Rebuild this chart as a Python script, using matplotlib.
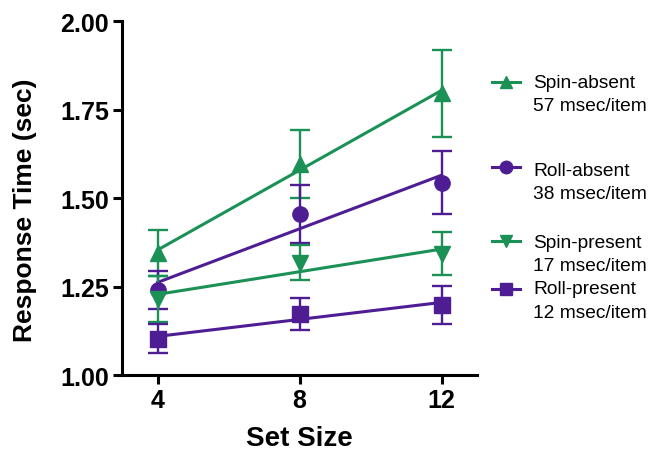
import numpy as np
import matplotlib
matplotlib.use("Agg")
import matplotlib.pyplot as plt
from matplotlib.lines import Line2D

# data
set_sizes = [4, 8, 12]

spin_absent = [1.345, 1.596, 1.796]
spin_absent_err = [0.065, 0.096, 0.122]
roll_absent = [1.241, 1.455, 1.544]
roll_absent_err = [0.054, 0.083, 0.090]
spin_present = [1.215, 1.318, 1.343]
spin_present_err = [0.065, 0.050, 0.060]
roll_present = [1.102, 1.172, 1.198]
roll_present_err = [0.041, 0.046, 0.054]

names = ["Spin-absent", "Roll-absent", "Spin-present", "Roll-present"]
slopes_txt = ["57 msec/item", "38 msec/item", "17 msec/item", "12 msec/item"]

GREEN = "#1b9156"
PURPLE = "#4e1d94"

plt.rcParams["font.family"] = ["Liberation Sans", "DejaVu Sans"]

series = [
    (spin_absent, spin_absent_err, GREEN, "^"),
    (roll_absent, roll_absent_err, PURPLE, "o"),
    (spin_present, spin_present_err, GREEN, "v"),
    (roll_present, roll_present_err, PURPLE, "s"),
]

fig = plt.figure(figsize=(6.6, 4.52), dpi=100)
ax = fig.add_axes([0.185, 0.168, 0.538, 0.783])

x = np.array(set_sizes)
for vals, errs, col, mk in series:
    # regression line through the means
    m, b = np.polyfit(x, vals, 1)
    ax.plot(x, m * x + b, color=col, lw=2.2, zorder=2)
    ax.errorbar(x, vals, yerr=errs, fmt=mk, color=col, ms=11,
                elinewidth=1.7, capsize=7, capthick=1.7, zorder=3)

ax.set_xlim(3, 13)
ax.set_ylim(1.0, 2.0)
ax.set_xticks(set_sizes)
ax.set_yticks([1.00, 1.25, 1.50, 1.75, 2.00])
ax.set_yticklabels(["1.00", "1.25", "1.50", "1.75", "2.00"])
ax.spines["top"].set_visible(False)
ax.spines["right"].set_visible(False)
for s in ["left", "bottom"]:
    ax.spines[s].set_linewidth(2.2)
ax.tick_params(width=2.2, length=6.5, pad=3, labelsize=18)
for lab in ax.get_xticklabels() + ax.get_yticklabels():
    lab.set_fontweight("bold")
ax.set_xlabel("Set Size", fontsize=20, fontweight="bold")
ax.set_ylabel("Response Time (sec)", fontsize=19, fontweight="bold")
ax.xaxis.set_label_coords(0.5, -0.14)
ax.yaxis.set_label_coords(-0.24, 0.469)

# hand-placed legend (uneven spacing like the original)
marker_y = [82.7, 168, 241.7, 290]
text_y = [83.3, 172, 244, 290]
H = 452.0
W = 660.0
for i, (vals, errs, col, mk) in enumerate(series):
    yf = 1 - marker_y[i] / H
    fig.add_artist(Line2D([492 / W, 520 / W], [yf, yf], color=col, lw=2.2,
                          transform=fig.transFigure))
    fig.add_artist(Line2D([506 / W], [yf], marker=mk, color=col, ms=9,
                          transform=fig.transFigure))
    ty = 1 - text_y[i] / H
    fig.text(533 / W, ty, names[i], fontsize=13.8, va="center", ha="left")
    fig.text(533 / W, ty - 23 / H, slopes_txt[i], fontsize=13.8, va="center", ha="left")

fig.savefig("out.png", dpi=100)
